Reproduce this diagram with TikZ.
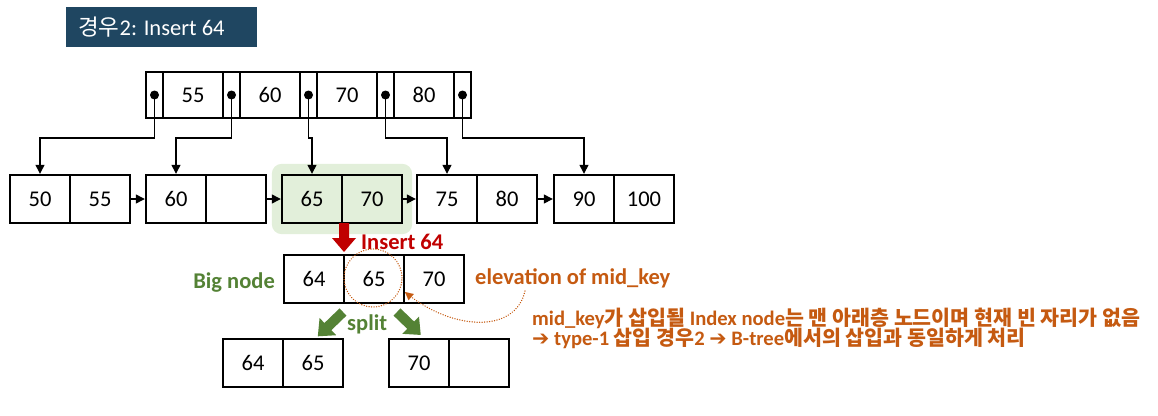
\documentclass[tikz,border=0pt]{standalone}
\usepackage{fontspec}
\setmainfont{Carlito}
\newfontfamily\krfont{Noto Sans CJK KR}
\newfontfamily\symfont{DejaVu Sans}
\newcommand{\K}[1]{{\krfont #1}}
\usetikzlibrary{arrows.meta,fit,backgrounds,calc}
\definecolor{titlebg}{RGB}{31,70,97}
\definecolor{hl}{RGB}{226,239,218}
\definecolor{myred}{RGB}{192,0,0}
\definecolor{mygreen}{RGB}{84,130,53}
\definecolor{myorange}{RGB}{197,90,17}
\tikzset{
  cell/.style={draw, line width=2.4, minimum height=48, minimum width=60, inner sep=0,
    font=\fontsize{22.5}{26}\selectfont},
  keycell/.style={cell, minimum height=46},
  ptrcell/.style={draw, line width=2.4, minimum height=46, minimum width=17, inner sep=0},
  dotnode/.style={circle, fill=black, inner sep=0, minimum size=9},
  arr/.style={line width=1.3, -{Triangle[width=9pt,length=9pt]}},
  lbl/.style={font=\fontsize{22.5}{26}\selectfont\bfseries, inner sep=0},
  note/.style={font=\fontsize{20.6}{24}\selectfont\bfseries, text=myorange, inner sep=0},
  dotline/.style={myorange, line width=1.4, dash pattern=on 0.1pt off 2.4pt, line cap=round},
}
\newcommand{\blockarrow}[5]{% color, x, y, angle, length
  \begin{scope}[shift={(#2,#3)}, rotate=#4]
    \fill[#1] (0,-5) -- (#5-14,-5) -- (#5-14,-12) -- (#5,0) -- (#5-14,12) -- (#5-14,5) -- (0,5) -- cycle;
  \end{scope}}
\begin{document}
\begin{tikzpicture}[x=1pt, y=-1pt]
\useasboundingbox (0,0) rectangle (1158,415);
% title
\node[fill=titlebg, minimum width=191, minimum height=40, inner sep=0, anchor=north west] (title) at (66,7) {};
\node[anchor=base west, text=white, font=\fontsize{22.5}{26}\selectfont, inner sep=0] (titletext) at (78,35) {\K{경우}2: Insert 64};
% top index node
\node[ptrcell] (pc1) at (154.5,95) {};
\node[keycell] (k1) at (193,95) {55};
\node[ptrcell] (pc2) at (231.5,95) {};
\node[keycell] (k2) at (270,95) {60};
\node[ptrcell] (pc3) at (308.5,95) {};
\node[keycell] (k3) at (347,95) {70};
\node[ptrcell] (pc4) at (385.5,95) {};
\node[keycell] (k4) at (424,95) {80};
\node[ptrcell] (pc5) at (462.5,95) {};
\foreach \i in {1,...,5} { \node[dotnode] (p\i) at (pc\i.center) {}; }
% leaves
\node[cell] (l1a) at (40,199) {50};
\node[cell] (l1b) at (100,199) {55};
\node[cell] (l2a) at (176,199) {60};
\node[cell] (l2b) at (236,199) {};
\node[cell] (l3a) at (312,199) {65};
\node[cell] (l3b) at (372,199) {70};
\node[cell] (l4a) at (447,199) {75};
\node[cell] (l4b) at (507,199) {80};
\node[cell] (l5a) at (584,199) {90};
\node[cell] (l5b) at (644,199) {100};
\begin{scope}[on background layer]
\node[fit=(l3a)(l3b), inner xsep=9, inner ysep=10, fill=hl, rounded corners=10] (hlbox) {};
\end{scope}
% pointers to leaves
\draw[arr] (p1.center) -- ++(0,43) -| (l1a.north);
\draw[arr] (p2.center) -- ++(0,43) -| (l2a.north);
\draw[arr] (p3.center) -- ++(0,43) -| (l3a.north);
\draw[arr] (p4.center) -- ++(0,43) -| (l4a.north);
\draw[arr] (p5.center) -- ++(0,43) -| (l5a.north);
% leaf links
\draw[arr] (l1b.east) -- (l2a.west);
\draw[arr] (l2b.east) -- (l3a.west);
\draw[arr] (l3b.east) -- (l4a.west);
\draw[arr] (l4b.east) -- (l5a.west);
% insert arrow
\blockarrow{myred}{344}{223}{-90}{29}
\node[lbl, text=myred, anchor=base west] (ins) at (361,249) {Insert 64};
% big node
\node[cell] (b1) at (314,279) {64};
\node[cell] (b2) at (374,279) {65};
\node[cell] (b3) at (434,279) {70};
\node[lbl, text=mygreen, anchor=base east] (bigl) at (275,288) {Big node};
\node[circle, draw, dotline, minimum size=58, inner sep=0] (circ) at (373,278) {};
% elevation label and curve
\node[lbl, text=myorange, anchor=base west] (elev) at (475,284) {elevation of mid\_key};
\coordinate (c1) at (525,291);
\coordinate (c2) at (405,292);
\draw[dotline] (c1) .. controls (515,335) and (450,330) .. (c2);
\draw[myorange, -{Triangle[width=8pt,length=8pt]}, line width=0.1] ($(c2)+(3,2.5)$) -- (c2);
% split
\blockarrow{mygreen}{343}{312}{-136}{35}
\blockarrow{mygreen}{397}{312}{-44}{33}
\node[lbl, text=mygreen, anchor=base west] (split) at (347,330) {split};
% bottom nodes
\node[cell] (n1a) at (253,363) {64};
\node[cell] (n1b) at (313,363) {65};
\node[cell] (n2a) at (419,363) {70};
\node[cell] (n2b) at (479,363) {};
% note
\node[note, anchor=base west] (note1) at (532,325) {mid\_key\K{가 삽입될} Index node\K{는 맨 아래층 노드이며 현재 빈 자리가 없음}};
\node[note, anchor=base west] (note2) at (532,345) {{\symfont ➔} type-1 \K{삽입 경우}2 {\symfont ➔} B-tree\K{에서의 삽입과 동일하게 처리}};
\end{tikzpicture}
\end{document}
